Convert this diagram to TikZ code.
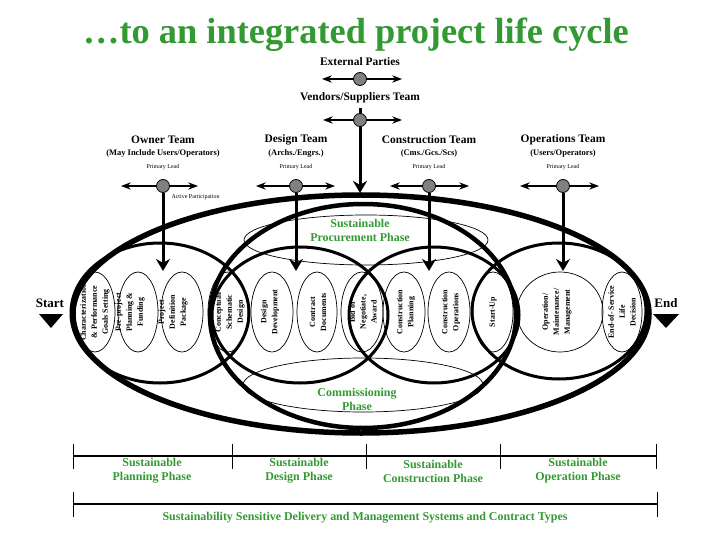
\documentclass[tikz,border=0pt]{standalone}
\usepackage{fontspec}
\setmainfont{Liberation Serif}
\usepackage{tikz}
\usetikzlibrary{arrows, arrows.meta}

\definecolor{phasegreen}{RGB}{51,153,51}
\definecolor{hubgray}{RGB}{128,128,128}

\begin{document}
\begin{tikzpicture}[x=1bp, y=-1bp,
  hub/.style={draw, fill=hubgray, circle, minimum size=13bp, inner sep=0pt, line width=0.8bp},
  crossarrow/.style={Stealth-Stealth, line width=1.5bp},
  leadarrow/.style={-{Stealth[length=12bp, width=14bp]}, line width=3bp},
  bigring/.style={line width=5.5bp},
  procring/.style={line width=4.5bp},
  phasering/.style={line width=3bp},
  thinring/.style={line width=0.7bp},
  stagetext/.style={rotate=90, align=center, inner sep=0pt, font=\bfseries\fontsize{8}{11}\selectfont},
  teamhead/.style={font=\bfseries\fontsize{11.5}{13}\selectfont},
  teamsub/.style={font=\bfseries\fontsize{8.5}{10}\selectfont},
  leadtag/.style={font=\fontsize{6}{7}\selectfont},
  greenlabel/.style={text=phasegreen, align=center, font=\bfseries\fontsize{12}{14}\selectfont},
  endlabel/.style={font=\bfseries\fontsize{13}{14}\selectfont}]
  \useasboundingbox (0,0) rectangle (720,540);

  % Coordinates
  \coordinate (extL) at (322,79);
  \coordinate (extR) at (402,79);
  \coordinate (vendL) at (323,120);
  \coordinate (vendR) at (402,120);
  \coordinate (vendtop) at (360,108);
  \coordinate (vendtip) at (360,193);
  \coordinate (ownL) at (121,186);
  \coordinate (ownR) at (198,186);
  \coordinate (owntip) at (163,271);
  \coordinate (desL) at (256,186);
  \coordinate (desR) at (335,186);
  \coordinate (destip) at (296,271);
  \coordinate (conL) at (390,186);
  \coordinate (conR) at (469,186);
  \coordinate (contip) at (429,271);
  \coordinate (opsL) at (520,186);
  \coordinate (opsR) at (599,186);
  \coordinate (opstip) at (563,271);

  % Title and teams
  \node[text=phasegreen, anchor=base, font=\bfseries\fontsize{36.5}{40}\selectfont] (title) at (356,44) {…to an integrated project life cycle};
  \node[teamhead] (external) at (360,62) {External Parties};
  \node[teamhead] (vendors) at (360,98) {Vendors/Suppliers Team};

  \node[teamhead] (owner) at (163,140) {Owner Team};
  \node[teamsub] (ownersub) at (163,153) {(May Include Users/Operators)};
  \node[leadtag] (ownerlead) at (163,167) {Primary Lead};
  \node[teamhead] (design) at (296,140) {Design Team};
  \node[teamsub] (designsub) at (296,153) {(Archs./Engrs.)};
  \node[leadtag] (designlead) at (296,167) {Primary Lead};
  \node[teamhead] (constr) at (429,140) {Construction Team};
  \node[teamsub] (constrsub) at (429,153) {(Cms./Gcs./Scs)};
  \node[leadtag] (constrlead) at (429,167) {Primary Lead};
  \node[teamhead] (ops) at (563,140) {Operations Team};
  \node[teamsub] (opssub) at (563,153) {(Users/Operators)};
  \node[leadtag] (opslead) at (563,167) {Primary Lead};
  \node[leadtag, anchor=west] (active) at (168,197) {Active Participation};

  % Stage ellipses
  \draw[thinring] (95,312) ellipse [x radius=20, y radius=40];
  \draw[thinring] (138,312) ellipse [x radius=20, y radius=40];
  \draw[thinring] (182,312) ellipse [x radius=21, y radius=40];
  \draw[thinring] (228,312) ellipse [x radius=20, y radius=40];
  \draw[thinring] (272,312) ellipse [x radius=21, y radius=40];
  \draw[thinring] (317,312) ellipse [x radius=20, y radius=40];
  \draw[thinring] (362,312) ellipse [x radius=21, y radius=40];
  \draw[thinring] (404,312) ellipse [x radius=21, y radius=40];
  \draw[thinring] (449,312) ellipse [x radius=21, y radius=40];
  \draw[thinring] (493,312) ellipse [x radius=20, y radius=40];
  \draw[thinring] (560,312) ellipse [x radius=43, y radius=40];
  \draw[thinring] (622,312) ellipse [x radius=20, y radius=40];

  % Procurement and commissioning
  \draw[thinring] (366,240) ellipse [x radius=122, y radius=25];
  \draw[thinring] (363,385) ellipse [x radius=120, y radius=27];

  % Phase rings
  \draw[phasering] (160,313) ellipse [x radius=89, y radius=70];
  \draw[phasering] (300,315) ellipse [x radius=88, y radius=68];
  \draw[phasering] (434,315) ellipse [x radius=85, y radius=68];
  \draw[phasering] (559,311) ellipse [x radius=87, y radius=68];
  \draw[procring] (363,316) ellipse [x radius=153, y radius=112];
  \draw[bigring] (361,314) ellipse [x radius=288, y radius=119];

  % Stage texts
  \node[stagetext] (charact) at (95,312) {Characterization\\\& Performance\\Goals Setting};
  \node[stagetext] (preproj) at (130,312) {Pre-project\\Planning \&\\Funding};
  \node[stagetext] (projdef) at (173,312) {Project\\Definition\\Package};
  \node[stagetext] (concept) at (230,312) {Conceptual/\\Schematic\\Design};
  \node[stagetext] (desdev) at (270,312) {Design\\Development};
  \node[stagetext] (contdoc) at (318,312) {Contract\\Documents};
  \node[stagetext] (bid) at (363,312) {Bid or\\Negotiate,\\Award};
  \node[stagetext] (conplan) at (406,312) {Construction\\Planning};
  \node[stagetext] (conops) at (451,312) {Construction\\Operations};
  \node[stagetext] (startup) at (493,312) {Start-Up};
  \node[stagetext] (opmaint) at (557,312) {Operation/\\Maintenance/\\Management};
  \node[stagetext] (endlife) at (622,312) {End-of- Service\\Life\\Decision};

  \node[greenlabel] (procure) at (360,230) {Sustainable\\Procurement Phase};
  \node[greenlabel] (commiss) at (357,399) {Commissioning\\Phase};

  % Start and end
  \node[endlabel] (start) at (50,303) {Start};
  \fill (39,314) -- (63,314) -- (51,328) -- cycle;
  \node[endlabel] (end) at (666,303) {End};
  \fill (653,314) -- (679,314) -- (666,328) -- cycle;

  % Drawing
  \draw[crossarrow] (extL) -- (extR);
  \draw[crossarrow] (vendL) -- (vendR);
  \draw[leadarrow] (vendtop) -- (vendtip);
  \draw[crossarrow] (ownL) -- (ownR);
  \draw[crossarrow] (desL) -- (desR);
  \draw[crossarrow] (conL) -- (conR);
  \draw[crossarrow] (opsL) -- (opsR);
  \node[hub] (exthub) at (360,79) {};
  \node[hub] (vendhub) at (360,120) {};
  \node[hub] (ownhub) at (163,186) {};
  \node[hub] (deshub) at (296,186) {};
  \node[hub] (conhub) at (429,186) {};
  \node[hub] (opshub) at (563,186) {};
  \draw[leadarrow] (ownhub) -- (owntip);
  \draw[leadarrow] (deshub) -- (destip);
  \draw[leadarrow] (conhub) -- (contip);
  \draw[leadarrow] (opshub) -- (opstip);

  % Phase bars
  \draw[line width=2bp] (73,456) -- (656,456);
  \draw[line width=0.8bp] (73,444) -- (73,469);
  \draw[line width=0.8bp] (232,444) -- (232,469);
  \draw[line width=0.8bp] (366,444) -- (366,469);
  \draw[line width=0.8bp] (500,444) -- (500,469);
  \draw[line width=0.8bp] (656,444) -- (656,469);
  \node[greenlabel] (planning) at (152,471) {Sustainable\\Planning Phase};
  \node[greenlabel] (designph) at (299,471) {Sustainable\\Design Phase};
  \node[greenlabel] (constrph) at (433,471) {Sustainable\\Construction Phase};
  \node[greenlabel] (operph) at (578,471) {Sustainable\\Operation Phase};

  \draw[line width=2bp] (73,504) -- (657,504);
  \draw[line width=0.8bp] (73,492) -- (73,517);
  \draw[line width=0.8bp] (657,492) -- (657,517);
  \node[greenlabel] (delivery) at (365,518) {Sustainability Sensitive Delivery and Management Systems and Contract Types};
\end{tikzpicture}
\end{document}
